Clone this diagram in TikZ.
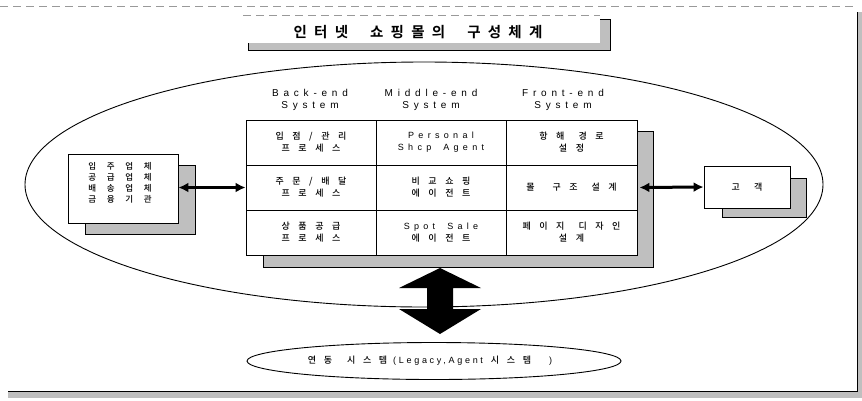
\documentclass[tikz,border=0pt]{standalone}
\usepackage{fontspec}
\setmainfont{Liberation Sans}
\newfontfamily\krl{Noto Sans CJK KR Medium}[LetterSpace=95]
\newfontfamily\krs{Noto Sans CJK KR Medium}[LetterSpace=125]
\newfontfamily\krb{Noto Sans CJK KR Medium}[LetterSpace=85]
\newfontfamily\krt{Noto Sans CJK KR Bold}[LetterSpace=50]
\newfontfamily\lat{Liberation Sans}[LetterSpace=48]
\newfontfamily\latn{Liberation Sans}[LetterSpace=30]
\newcommand\kgap{\hspace{14pt}}
\usetikzlibrary{arrows.meta,calc,shapes.geometric}
\begin{document}
\begin{tikzpicture}[x=1pt,y=-1pt,
  shadowfill/.style={draw=black,line width=0.7pt,fill=black!25},
  wbox/.style={draw=black,line width=0.9pt,fill=white},
  cell/.style={draw=black,line width=0.9pt,fill=white,minimum width=130pt,minimum height=45pt,
    align=center,inner sep=0pt,font=\krl\fontsize{9}{12}\selectfont},
  hdr/.style={align=center,inner sep=0pt,font=\lat\fontsize{10}{11.5}\selectfont},
  dar/.style={line width=3pt,{Latex[length=10pt,width=10pt]}-{Latex[length=10pt,width=10pt]}}]
\useasboundingbox (0,0) rectangle (862,400);
% outer frame
\draw[black!40,line width=0.5pt,dash pattern=on 8pt off 5pt] (0,6) -- (857,6);
\fill[black!25] (857,12) rectangle (862,398);
\fill[black!25] (8,391) rectangle (862,398);
\draw[line width=0.8pt] (857,12) -- (857,391) -- (8,391);
% title
\fill[black!25,draw=black,line width=0.4pt] (248,19) rectangle (610,50);
\fill[white] (243,15) rectangle (600,43);
\draw[black!40,line width=0.5pt,dash pattern=on 8pt off 5pt] (243,15) -- (600,15);
\node[inner sep=0pt,font=\krt\fontsize{14.5}{16}\selectfont] (title) at (418,32) {인터넷\hspace{22pt}쇼핑몰의\hspace{22pt}구성체계};
% big ellipse
\node[draw,ellipse,line width=0.9pt,minimum width=798pt,minimum height=245pt,inner sep=0pt] (big) at (424,184.5) {};
% table shadow
\draw[shadowfill] (263,131) rectangle (653,267);
% headers
\node[hdr] (h1) at (310,100) {Back-end\\System};
\node[hdr] (h2) at (431,100) {Middle-end\\System};
\node[hdr] (h3) at (563,100) {Front-end\\System};
% cells
\node[cell] (c11) at (311,142.5) {입점/관리\\프로세스};
\node[cell] (c12) at (441,142.5) {{\lat Personal}\\{\lat Shcp}\hspace{12pt}{\lat Agent}};
\node[cell,minimum width=131pt] (c13) at (571.5,142.5) {항해\kgap 경로\\설정};
\node[cell] (c21) at (311,187.5) {주문/배달\\프로세스};
\node[cell] (c22) at (441,187.5) {비교쇼핑\\에이전트};
\node[cell,minimum width=131pt] (c23) at (571.5,187.5) {몰\hspace{18pt}구조\kgap 설계};
\node[cell] (c31) at (311,232.5) {상품공급\\프로세스};
\node[cell] (c32) at (441,232.5) {{\lat Spot}\hspace{12pt}{\lat Sale}\\에이전트};
\node[cell,minimum width=131pt] (c33) at (571.5,232.5) {페이지\kgap 디자인\\설계};
% left box
\draw[shadowfill] (85,165) rectangle (195,234);
\node[wbox,minimum width=110pt,minimum height=69pt,inner sep=0pt] (lb) at (123,188.5) {};
\node[align=center,inner sep=0pt,font=\krs\fontsize{8.5}{11}\selectfont] (lbt) at (120,183) {입주업체\\공급업체\\배송업체\\금융기관};
% right box
\draw[shadowfill] (722,178) rectangle (806,217);
\node[wbox,minimum width=86pt,minimum height=42pt,inner sep=0pt,font=\krl\fontsize{9}{11}\selectfont] (rb) at (747,187) {고\hspace{14pt}객};
% horizontal arrows
\draw[dar] (lb.east |- c21.west) -- (c21.west);
\draw[dar] ($(c23.east)+(2,0)$) -- (rb.west);
% legacy ellipse
\node[draw,ellipse,line width=0.9pt,minimum width=374pt,minimum height=37pt,inner sep=0pt,fill=white] (leg) at (434,361) {};
\node[inner sep=0pt,font=\fontsize{9}{11}\selectfont] (legt) at (430,361) {{\krb 연동}\hspace{15pt}{\krb 시스템}\hspace{6pt}{\latn (Legacy,Agent}\hspace{8pt}{\krb 시스템}\hspace{18pt}{\latn )}};
% vertical fat double arrow
\coordinate (vt) at (440,268);
\coordinate (vb) at (440,334);
\fill (vt) -- ++(41,20) -- ++(-28,0) -- ++(0,21) -- ++(28,0) -- (vb) -- ++(-41,-25) -- ++(28,0) -- ++(0,-21) -- ++(-28,0) -- cycle;
\end{tikzpicture}
\end{document}
